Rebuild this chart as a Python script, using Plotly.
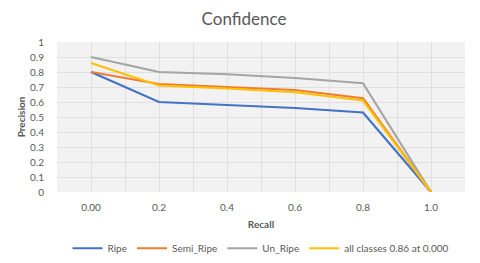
import plotly.graph_objects as go

recall = [0.0, 0.2, 0.4, 0.6, 0.8, 1.0]
ripe = [0.80, 0.60, 0.58, 0.56, 0.53, 0.0]
semi_ripe = [0.80, 0.72, 0.70, 0.68, 0.625, 0.0]
un_ripe = [0.90, 0.80, 0.785, 0.76, 0.725, 0.0]
all_classes = [0.86, 0.71, 0.69, 0.665, 0.61, 0.0]

x_tick_vals = [0.0, 0.2, 0.4, 0.6, 0.8, 1.0]
x_tick_text = ["0.00", "0.2", "0.4", "0.6", "0.8", "1.0"]
y_tick_vals = [0, 0.1, 0.2, 0.3, 0.4, 0.5, 0.6, 0.7, 0.8, 0.9, 1.0]
y_tick_text = ["0", "0.1", "0.2", "0.3", "0.4", "0.5", "0.6", "0.7", "0.8", "0.9", "1"]

series = [
    ("Ripe", ripe, "#4472C4"),
    ("Semi_Ripe", semi_ripe, "#ED7D31"),
    ("Un_Ripe", un_ripe, "#A5A5A5"),
    ("all classes 0.86 at 0.000", all_classes, "#FFC000"),
]

font = "Lato, 'Open Sans', sans-serif"
fig = go.Figure()
for name, vals, col in series:
    fig.add_trace(go.Scatter(x=recall, y=vals, name=name, mode="lines",
                             line=dict(color=col, width=2.2)))

# page body has an 8px default margin, so the figure is offset by 8px
fig.update_layout(
    width=472, height=255,
    margin=dict(l=49, r=15, t=34, b=71, autoexpand=False),
    paper_bgcolor="white",
    plot_bgcolor="#f2f2f2",
    font=dict(family=font, color="#595959", size=10),
    title=dict(text="Confidence", x=0.5, xanchor="center", y=0.955, yanchor="middle",
               font=dict(size=17, color="#595959", family=font)),
    showlegend=True,
    legend=dict(orientation="h", x=0.5, xanchor="center", y=-0.375, yanchor="middle",
                font=dict(size=10, color="#595959"), itemwidth=30, tracegroupgap=0),
)
fig.update_xaxes(range=[-0.1, 1.1], tickmode="array", tickvals=x_tick_vals, ticktext=x_tick_text,
                 showgrid=True, gridcolor="#e0e0e0", gridwidth=1, zeroline=False, showline=False,
                 ticks="outside", ticklen=6, tickcolor="rgba(0,0,0,0)", automargin=False,
                 minor=dict(dtick=0.1, tick0=0, showgrid=True, gridcolor="#e0e0e0"),
                 title=dict(text="<b>Recall</b>", font=dict(size=10, color="#595959"), standoff=8))
fig.update_yaxes(range=[0, 1.0], tickmode="array", tickvals=y_tick_vals, ticktext=y_tick_text,
                 showgrid=True, gridcolor="#e0e0e0", zeroline=False, showline=False,
                 ticks="outside", ticklen=10, tickcolor="rgba(0,0,0,0)", automargin=False,
                 title=dict(text="<b>Precision</b>", font=dict(size=10, color="#595959"), standoff=2))
fig.write_html("out.html")
